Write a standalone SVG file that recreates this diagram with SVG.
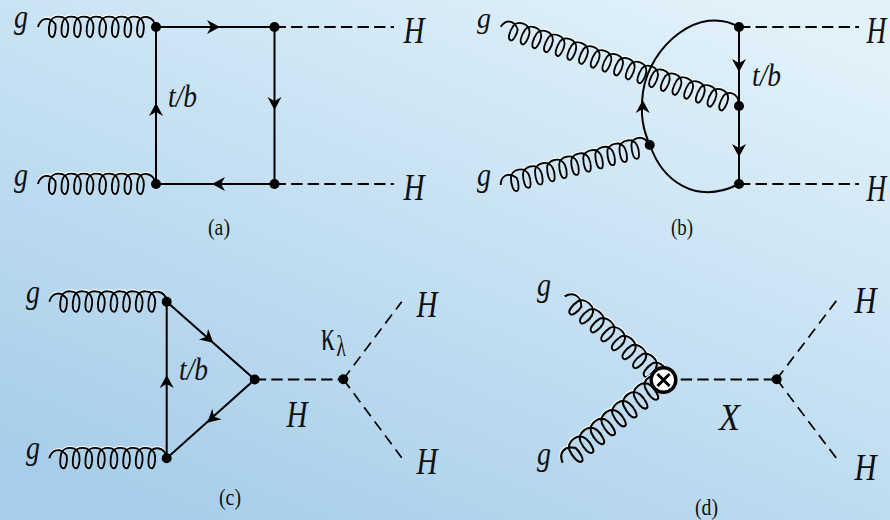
<svg xmlns="http://www.w3.org/2000/svg" width="890" height="520" viewBox="0 0 890 520">
<style>
.l{fill:none;stroke:#000;stroke-width:2}
.d{fill:none;stroke:#000;stroke-width:2.200;stroke-dasharray:11.400 5.200}
.e{fill:none;stroke:#000;stroke-width:1.700;stroke-dasharray:11 6.500}
.gb{fill:none;stroke:#000;stroke-width:1.900}
.gw{fill:none;stroke:#fff;stroke-width:1.600}
text{font-family:"Liberation Serif","Times New Roman",serif;fill:#111}
.h{font-style:italic;font-size:38px}
.g{font-style:italic;font-size:33px}
.t{font-style:italic;font-size:32px}
.c{font-size:23px}
</style>
<defs>
<linearGradient id="bg" x1="0.85" y1="0" x2="0.15" y2="1">
<stop offset="0" stop-color="#e2f2fa"/><stop offset="1" stop-color="#a6cdea"/>
</linearGradient>
<path id="a" d="M0,0L-13,-7L-9,0L-13,7Z" fill="#000"/>
<path id="g8" d="M-12,11C-10,3 -2,-1 5.4,8c1,6 -1,13 -3,13 -4.500,0 -4,-9 -2.400,-15
c2,-7 16,-8 18,2 1,6 -1,13 -3,13 -4.500,0 -4,-9 -2.400,-15
c2,-7 16,-8 18,2 1,6 -1,13 -3,13 -4.500,0 -4,-9 -2.400,-15
c2,-7 16,-8 18,2 1,6 -1,13 -3,13 -4.500,0 -4,-9 -2.400,-15
c2,-7 16,-8 18,2 1,6 -1,13 -3,13 -4.500,0 -4,-9 -2.400,-15
c2,-7 16,-8 18,2 1,6 -1,13 -3,13 -4.500,0 -4,-9 -2.400,-15
c2,-7 16,-8 18,2 1,6 -1,13 -3,13 -4.500,0 -4,-9 -2.400,-15
c2,-7 16,-8 18,2 1,6 -1,13 -3,13 -4.500,0 -4,-9 -2.400,-15
c2,-7 15,-8 17.800,5"/>
<path id="g11" d="M-12,11C-10,3 -2,-1 5.4,8c1,6 -1,13 -3,13 -4.500,0 -4,-9 -2.400,-15
c2,-7 16,-8 18,2 1,6 -1,13 -3,13 -4.500,0 -4,-9 -2.400,-15
c2,-7 16,-8 18,2 1,6 -1,13 -3,13 -4.500,0 -4,-9 -2.400,-15
c2,-7 16,-8 18,2 1,6 -1,13 -3,13 -4.500,0 -4,-9 -2.400,-15
c2,-7 16,-8 18,2 1,6 -1,13 -3,13 -4.500,0 -4,-9 -2.400,-15
c2,-7 16,-8 18,2 1,6 -1,13 -3,13 -4.500,0 -4,-9 -2.400,-15
c2,-7 16,-8 18,2 1,6 -1,13 -3,13 -4.500,0 -4,-9 -2.400,-15
c2,-7 16,-8 18,2 1,6 -1,13 -3,13 -4.500,0 -4,-9 -2.400,-15
c2,-7 16,-8 18,2 1,6 -1,13 -3,13 -4.500,0 -4,-9 -2.400,-15
c2,-7 16,-8 18,2 1,6 -1,13 -3,13 -4.500,0 -4,-9 -2.400,-15
c2,-7 16,-8 18,2 1,6 -1,13 -3,13 -4.500,0 -4,-9 -2.400,-15
c2,-7 15,-8 17.800,5"/>
<path id="g19" d="M-12,11C-10,3 -2,-1 5.4,8c1,6 -1,13 -3,13 -4.500,0 -4,-9 -2.400,-15
c2,-7 16,-8 18,2 1,6 -1,13 -3,13 -4.500,0 -4,-9 -2.400,-15
c2,-7 16,-8 18,2 1,6 -1,13 -3,13 -4.500,0 -4,-9 -2.400,-15
c2,-7 16,-8 18,2 1,6 -1,13 -3,13 -4.500,0 -4,-9 -2.400,-15
c2,-7 16,-8 18,2 1,6 -1,13 -3,13 -4.500,0 -4,-9 -2.400,-15
c2,-7 16,-8 18,2 1,6 -1,13 -3,13 -4.500,0 -4,-9 -2.400,-15
c2,-7 16,-8 18,2 1,6 -1,13 -3,13 -4.500,0 -4,-9 -2.400,-15
c2,-7 16,-8 18,2 1,6 -1,13 -3,13 -4.500,0 -4,-9 -2.400,-15
c2,-7 16,-8 18,2 1,6 -1,13 -3,13 -4.500,0 -4,-9 -2.400,-15
c2,-7 16,-8 18,2 1,6 -1,13 -3,13 -4.500,0 -4,-9 -2.400,-15
c2,-7 16,-8 18,2 1,6 -1,13 -3,13 -4.500,0 -4,-9 -2.400,-15
c2,-7 16,-8 18,2 1,6 -1,13 -3,13 -4.500,0 -4,-9 -2.400,-15
c2,-7 16,-8 18,2 1,6 -1,13 -3,13 -4.500,0 -4,-9 -2.400,-15
c2,-7 16,-8 18,2 1,6 -1,13 -3,13 -4.500,0 -4,-9 -2.400,-15
c2,-7 16,-8 18,2 1,6 -1,13 -3,13 -4.500,0 -4,-9 -2.400,-15
c2,-7 16,-8 18,2 1,6 -1,13 -3,13 -4.500,0 -4,-9 -2.400,-15
c2,-7 16,-8 18,2 1,6 -1,13 -3,13 -4.500,0 -4,-9 -2.400,-15
c2,-7 16,-8 18,2 1,6 -1,13 -3,13 -4.500,0 -4,-9 -2.400,-15
c2,-7 16,-8 18,2 1,6 -1,13 -3,13 -4.500,0 -4,-9 -2.400,-15
c2,-7 15,-8 17.800,5"/>
<g id="G8"><use href="#g8" class="gw" y="-1.200"/><use href="#g8" class="gb"/></g>
<g id="G11"><use href="#g11" class="gw" y="-1.200"/><use href="#g11" class="gb"/></g>
<g id="G19"><use href="#g19" class="gw" y="-1.200"/><use href="#g19" class="gb"/></g>
</defs>
<rect width="890" height="520" fill="url(#bg)"/>
<g id="connectors">
<use href="#G8" transform="translate(50,16)"/>
<use href="#G8" transform="translate(50,173)"/>
<path class="l" d="M156,27H274.500V184H156Z"/>
<path class="d" d="M274.500,27H394M274.500,184H394"/>
<use href="#a" transform="translate(220,27)"/>
<use href="#a" transform="translate(156,103) rotate(-90)"/>
<use href="#a" transform="translate(274.500,110) rotate(90)"/>
<use href="#a" transform="translate(212,184) rotate(180)"/>

<use href="#G19" transform="translate(515.200,20.250) rotate(18.400) scale(.977)"/>
<use href="#G11" transform="translate(509.400,171.400) rotate(-15) scale(.99)"/>
<path class="l" d="M739,27C700,4 650,45 643,92C640,115 643,130 650,145C662,180 695,206 739,184M739,27V184"/>
<path class="d" d="M739,27H859M739,184H859"/>
<use href="#a" transform="translate(642.700,100) rotate(-90)"/>
<use href="#a" transform="translate(739,72) rotate(90)"/>
<use href="#a" transform="translate(739,157) rotate(90)"/>

<use href="#G8" transform="translate(61.300,290.700)"/>
<use href="#G8" transform="translate(61.300,447.300)"/>
<path class="l" d="M166.700,301.700V458.300L254.700,379.500Z"/>
<path class="d" d="M254.700,379.500H343"/>
<path class="e" d="M343.300,379.300L401.700,301.700M343.300,379.300L401.700,457.700"/>
<use href="#a" transform="translate(166.700,375) rotate(-90)"/>
<use href="#a" transform="translate(213.300,342.700) rotate(41)"/>
<use href="#a" transform="translate(207.300,422.700) rotate(138)"/>

<use href="#G8" transform="translate(582,296.500) rotate(40) scale(1.1,1)"/>
<use href="#G8" transform="translate(565.200,444.800) rotate(-39.400) scale(1.11)"/>
<path class="d" d="M680.700,379.500H776"/>
<path class="e" d="M776.700,379.300L840,296M776.700,379.300L840,463"/>
</g>
<g id="vertices" fill="#000">
<circle cx="156" cy="27" r="5"/><circle cx="274.500" cy="27" r="5"/><circle cx="156" cy="184" r="5"/><circle cx="274.500" cy="184" r="5"/>
<circle cx="739" cy="27" r="5"/><circle cx="739" cy="106" r="5"/><circle cx="739" cy="184" r="5"/><circle cx="649.700" cy="145" r="5"/>
<circle cx="166.700" cy="301.700" r="5"/><circle cx="166.700" cy="458.300" r="5"/><circle cx="254.700" cy="379.500" r="5"/><circle cx="343.300" cy="379.300" r="5"/>
<circle cx="776.700" cy="379.300" r="5"/>
</g>
<g id="node-x">
<circle cx="663.500" cy="380" r="12.300" fill="#fff" stroke="#000" stroke-width="3.400"/>
<path d="M657.500,374L669.500,386M669.500,374L657.500,386" stroke="#000" stroke-width="3" fill="none"/>
</g>
<g id="labels">
<text class="g" x="14" y="28" textLength="14" lengthAdjust="spacingAndGlyphs">g</text>
<text class="g" x="14" y="185.500" textLength="14" lengthAdjust="spacingAndGlyphs">g</text>
<text class="h" x="403.500" y="43" textLength="21" lengthAdjust="spacingAndGlyphs">H</text>
<text class="h" x="403.500" y="200" textLength="21" lengthAdjust="spacingAndGlyphs">H</text>
<text class="t" x="168" y="106.700" textLength="29" lengthAdjust="spacingAndGlyphs">t/b</text>
<text class="c" x="208" y="235" textLength="22" lengthAdjust="spacingAndGlyphs">(a)</text>
<text class="g" x="477" y="27.500" textLength="14" lengthAdjust="spacingAndGlyphs" style="font-size:30px">g</text>
<text class="g" x="477" y="185.500" textLength="14" lengthAdjust="spacingAndGlyphs">g</text>
<text class="h" transform="translate(866.500,43) scale(.72,1)">H</text>
<text class="h" transform="translate(866.500,201) scale(.72,1)">H</text>
<text class="t" x="752" y="86" textLength="29" lengthAdjust="spacingAndGlyphs">t/b</text>
<text class="c" x="671" y="235" textLength="22" lengthAdjust="spacingAndGlyphs">(b)</text>
<text class="g" x="26" y="302.700" textLength="14" lengthAdjust="spacingAndGlyphs">g</text>
<text class="g" x="26" y="459" textLength="14" lengthAdjust="spacingAndGlyphs">g</text>
<text class="h" x="416.500" y="317" textLength="21" lengthAdjust="spacingAndGlyphs">H</text>
<text class="h" x="416.500" y="474" textLength="21" lengthAdjust="spacingAndGlyphs">H</text>
<text class="h" x="286.500" y="427" textLength="21" lengthAdjust="spacingAndGlyphs">H</text>
<text class="t" x="179" y="380" textLength="29" lengthAdjust="spacingAndGlyphs">t/b</text>
<text class="c" x="219" y="505" textLength="22" lengthAdjust="spacingAndGlyphs">(c)</text>
<text transform="translate(321,349.500) scale(.62,1)" font-size="44">κ</text>
<text transform="translate(336.500,356) scale(.64,1)" font-size="30">λ</text>
<text class="g" x="537" y="296" textLength="14" lengthAdjust="spacingAndGlyphs">g</text>
<text class="g" x="537" y="464.500" textLength="14" lengthAdjust="spacingAndGlyphs">g</text>
<text class="h" x="854.500" y="313" textLength="22" lengthAdjust="spacingAndGlyphs">H</text>
<text class="h" x="854.500" y="480" textLength="22" lengthAdjust="spacingAndGlyphs">H</text>
<text class="h" x="719" y="430" textLength="21" lengthAdjust="spacingAndGlyphs">X</text>
<text class="c" x="695" y="515" textLength="23" lengthAdjust="spacingAndGlyphs">(d)</text>
</g>
</svg>
